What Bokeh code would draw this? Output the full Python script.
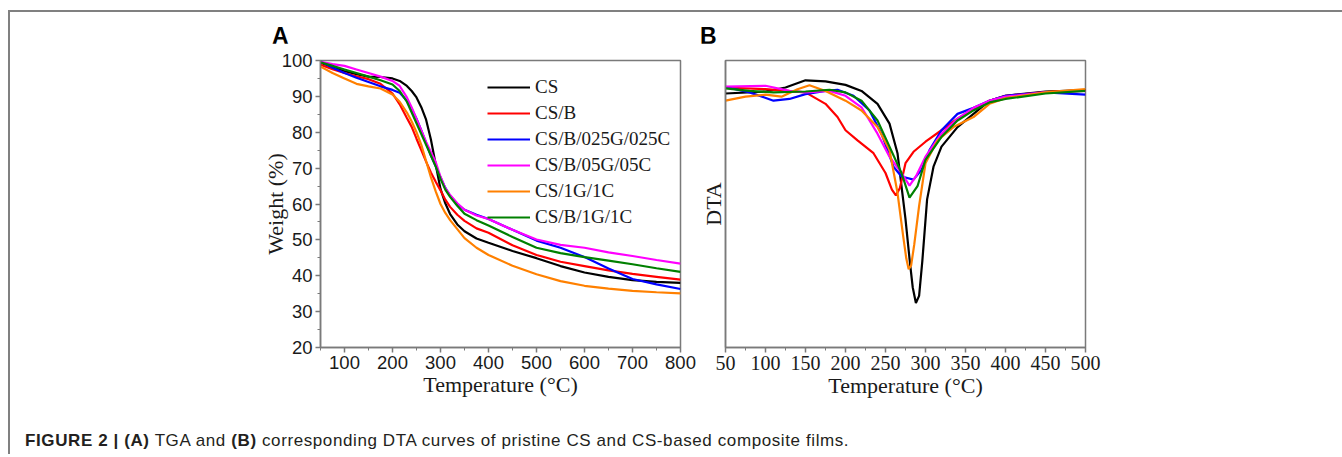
from bokeh.plotting import figure
from bokeh.models import Range1d, Legend, LegendItem, Div, FixedTicker
from bokeh.layouts import column, row
from bokeh.embed import file_html
from bokeh.resources import INLINE

# ---------------- TGA data (panel A) ----------------
tga_T = [50, 75, 100, 125, 150, 175, 200, 215, 230, 240, 250, 260, 270, 280, 290,
         300, 310, 320, 335, 350, 375, 400, 450, 500, 550, 600, 650, 700, 750, 800]
tga_cs = [99.4, 98.2, 97.0, 96.2, 95.5, 95.4, 95.0, 94.3, 92.9, 91.5, 89.7, 87.0, 83.5, 78.0, 71.0,
          64.2, 60.2, 57.2, 54.3, 52.4, 50.4, 49.2, 46.9, 44.9, 42.7, 40.9, 39.7, 38.8, 38.3, 38.0]
tga_csb = [98.8, 97.6, 96.5, 95.6, 94.8, 93.5, 90.8, 87.8, 84.0, 81.5, 78.2, 75.0, 71.8, 68.8, 66.2,
           63.8, 61.2, 59.2, 57.0, 55.3, 53.2, 52.0, 48.5, 45.8, 43.9, 42.7, 41.5, 40.5, 39.7, 38.9]
tga_025 = [99.8, 98.0, 96.5, 95.2, 94.0, 92.8, 91.8, 91.0, 88.8, 86.5, 83.8, 80.5, 77.0, 73.5, 70.5,
           67.5, 64.5, 62.3, 60.0, 58.4, 57.0, 55.8, 52.8, 49.8, 47.8, 45.2, 42.0, 39.1, 37.6, 36.3]
tga_05 = [99.6, 99.0, 98.5, 97.5, 96.5, 95.5, 94.3, 92.9, 89.7, 86.9, 83.7, 80.5, 77.3, 74.5, 71.7,
          67.6, 64.4, 62.5, 60.2, 58.4, 56.8, 55.8, 52.8, 50.1, 48.6, 47.8, 46.5, 45.5, 44.4, 43.4]
tga_1g1c = [98.3, 96.5, 95.0, 93.5, 92.8, 92.2, 90.5, 88.5, 85.5, 83.0, 80.0, 76.5, 72.0, 67.5, 63.5,
            60.0, 57.5, 55.5, 53.0, 50.5, 47.8, 45.8, 42.8, 40.4, 38.5, 37.2, 36.4, 35.8, 35.4, 35.1]
tga_b1g1c = [99.5, 98.5, 97.5, 96.5, 95.5, 94.5, 93.3, 91.5, 88.5, 85.5, 82.5, 79.5, 76.5, 73.5, 70.5,
             67.0, 64.0, 62.0, 59.5, 57.3, 55.5, 54.0, 50.8, 47.8, 46.3, 45.2, 44.2, 43.2, 42.1, 41.1]

# ---------------- DTA data (panel B, arbitrary units) ----------------
dta_cs_T = [50, 100, 125, 150, 175, 200, 220, 240, 255, 265, 275, 280, 284, 288, 292, 296, 302, 310, 320, 340, 360, 380, 400, 450, 500]
dta_cs = [88.5, 89.2, 90.6, 93.1, 92.7, 91.5, 89.4, 84.9, 78.0, 67.7, 44.7, 31.0, 21.0, 15.5, 18.0, 30.0, 51.6, 63.0, 70.0, 76.8, 81.4, 86.0, 87.7, 89.2, 89.7]
dta_csb_T = [50, 100, 150, 175, 190, 200, 215, 235, 250, 258, 263, 268, 275, 285, 300, 320, 340, 360, 380, 400, 450, 500]
dta_csb = [90.6, 90.0, 88.9, 84.9, 80.3, 75.7, 72.2, 67.7, 60.8, 55.0, 53.0, 55.6, 64.2, 68.2, 71.7, 75.7, 79.7, 83.1, 86.0, 87.7, 89.0, 89.7]
dta_025_T = [50, 80, 110, 130, 150, 175, 190, 210, 230, 245, 260, 270, 285, 295, 305, 320, 340, 360, 380, 400, 450, 500]
dta_025 = [90.8, 88.9, 86.0, 86.6, 88.3, 89.4, 89.8, 87.7, 82.6, 74.5, 63.0, 59.6, 58.5, 61.9, 68.8, 75.7, 81.4, 83.5, 86.0, 87.7, 88.9, 88.1]
dta_05_T = [50, 100, 130, 150, 180, 200, 220, 240, 255, 270, 280, 288, 300, 320, 340, 360, 380, 400, 450, 500]
dta_05 = [90.9, 91.2, 89.4, 88.9, 89.4, 87.7, 83.7, 74.5, 66.5, 60.8, 56.4, 59.6, 66.5, 74.5, 79.7, 83.5, 86.0, 87.4, 88.9, 89.4]
dta_1g1c_T = [50, 75, 100, 120, 140, 155, 175, 200, 220, 240, 255, 265, 272, 276, 279, 282, 286, 292, 300, 315, 335, 360, 380, 400, 450, 500]
dta_1g1c = [86.0, 87.4, 88.1, 87.4, 90.0, 91.4, 89.4, 86.0, 82.6, 76.8, 68.8, 53.9, 39.0, 31.0, 27.3, 28.5, 36.0, 49.3, 64.2, 72.2, 76.8, 80.3, 84.9, 86.9, 88.9, 90.0]
dta_b1g1c_T = [50, 80, 110, 150, 180, 200, 220, 240, 255, 270, 280, 290, 300, 320, 340, 360, 380, 400, 450, 500]
dta_b1g1c = [90.3, 89.4, 88.9, 89.2, 89.8, 88.9, 86.0, 79.1, 70.0, 60.8, 52.2, 56.2, 65.4, 73.4, 79.1, 82.6, 85.4, 86.6, 88.5, 89.4]

names = ["CS", "CS/B", "CS/B/025G/025C", "CS/B/05G/05C", "CS/1G/1C", "CS/B/1G/1C"]
colors = ["#000000", "#ff0000", "#0000ff", "#ff00ff", "#ff8000", "#008000"]
tga_series = [tga_cs, tga_csb, tga_025, tga_05, tga_1g1c, tga_b1g1c]
dta_T = [dta_cs_T, dta_csb_T, dta_025_T, dta_05_T, dta_1g1c_T, dta_b1g1c_T]
dta_series = [dta_cs, dta_csb, dta_025, dta_05, dta_1g1c, dta_b1g1c]

xticks_a = [100, 200, 300, 400, 500, 600, 700, 800]
yticks_a = [20, 30, 40, 50, 60, 70, 80, 90, 100]
xticks_b = [50, 100, 150, 200, 250, 300, 350, 400, 450, 500]

GREY = "#7a7a7a"
SERIF = "Liberation Serif"
SANS = "Liberation Sans"


def style(p):
    p.xgrid.visible = False
    p.ygrid.visible = False
    p.outline_line_color = GREY
    p.outline_line_width = 1.5
    p.background_fill_color = "white"
    p.border_fill_color = "white"
    for ax in p.axis:
        ax.axis_line_color = GREY
        ax.axis_line_width = 1.5
        ax.major_tick_line_color = GREY
        ax.minor_tick_line_color = GREY
        ax.major_tick_line_width = 1.5
        ax.major_tick_in = 0
        ax.major_tick_out = 5
        ax.minor_tick_in = 0
        ax.minor_tick_out = 3
        ax.major_label_text_color = "#1a1a1a"
        ax.axis_label_text_color = "#1a1a1a"
        ax.axis_label_text_font = SERIF
        ax.axis_label_text_font_style = "normal"
        ax.axis_label_text_font_size = "22px"
        ax.major_label_standoff = 3


# ---------------- Panel letters ----------------
letters = Div(
    text=('<div style="position:relative; width:1324px; height:21px;">'
          '<span style="position:absolute; left:257px; top:3px; font-family:\'Liberation Sans\';'
          ' font-weight:bold; font-size:23px; color:#000;">A</span>'
          '<span style="position:absolute; left:685px; top:3px; font-family:\'Liberation Sans\';'
          ' font-weight:bold; font-size:23px; color:#000;">B</span></div>'),
    width=1324, height=21)

# ---------------- Panel A ----------------
pA = figure(width=687, height=357, output_backend="svg", toolbar_location=None,
            x_range=Range1d(50, 800), y_range=Range1d(20, 100),
            min_border_left=310, min_border_right=17, min_border_top=17, min_border_bottom=50)
style(pA)
pA.xaxis.ticker = FixedTicker(ticks=xticks_a, minor_ticks=list(range(50, 801, 50)))
pA.yaxis.ticker = FixedTicker(ticks=yticks_a, minor_ticks=list(range(20, 101, 5)))
for ax in pA.axis:
    ax.major_label_text_font = SANS
    ax.major_label_text_font_size = "18.5px"
pA.xaxis.axis_label = "Temperature (°C)"
pA.yaxis.axis_label = "Weight (%)"
pA.xaxis.axis_label_standoff = 0
pA.yaxis.axis_label_standoff = -9

items = []
for name, col, ys in zip(names, colors, tga_series):
    r = pA.line(tga_T, ys, line_color=col, line_width=2.2)
    items.append(LegendItem(label=name, renderers=[r]))
leg = Legend(items=items, location=(167, 119), border_line_color=None,
             background_fill_alpha=0, padding=0, margin=0, spacing=4,
             glyph_width=43, glyph_height=20, label_height=20, label_standoff=5,
             label_text_font=SERIF, label_text_font_size="19px", label_text_color="#1a1a1a")
pA.add_layout(leg, "center")

# ---------------- Panel B ----------------
pB = figure(width=637, height=357, output_backend="svg", toolbar_location=None,
            x_range=Range1d(50, 500), y_range=Range1d(0, 100),
            min_border_left=24, min_border_right=249, min_border_top=15, min_border_bottom=51)
style(pB)
pB.xaxis.ticker = FixedTicker(ticks=xticks_b, minor_ticks=list(range(50, 501, 25)))
pB.yaxis.ticker = FixedTicker(ticks=[])
pB.yaxis.major_label_text_font_size = "0px"
pB.yaxis.major_tick_out = 0
pB.yaxis.minor_tick_out = 0
pB.yaxis.major_label_standoff = 0
pB.xaxis.major_label_text_font = SERIF
pB.xaxis.major_label_text_font_size = "20px"
pB.xaxis.axis_label = "Temperature (°C)"
pB.yaxis.axis_label = "DTA"
pB.xaxis.axis_label_standoff = 0
pB.yaxis.axis_label_standoff = 0
for col, xs, ys in zip(colors, dta_T, dta_series):
    pB.line(xs, ys, line_color=col, line_width=2.2)

caption = Div(
    text=('<div style="position:relative; left:10px; top:24px; font-family:\'Liberation Sans\';'
          ' font-size:17px; letter-spacing:0.6px; color:#231f20; white-space:nowrap;">'
          '<b>FIGURE 2 | (A)</b> TGA and <b>(B)</b> corresponding DTA curves of pristine CS and '
          'CS-based composite films.</div>'),
    width=1324, height=44)

p = column(letters, row(pA, pB), caption,
           styles={"border-left": "2px solid #808080", "border-top": "2px solid #808080",
                   "margin-top": "10px", "margin-left": "8px"})

open("out.html", "w").write(file_html(p, INLINE))
